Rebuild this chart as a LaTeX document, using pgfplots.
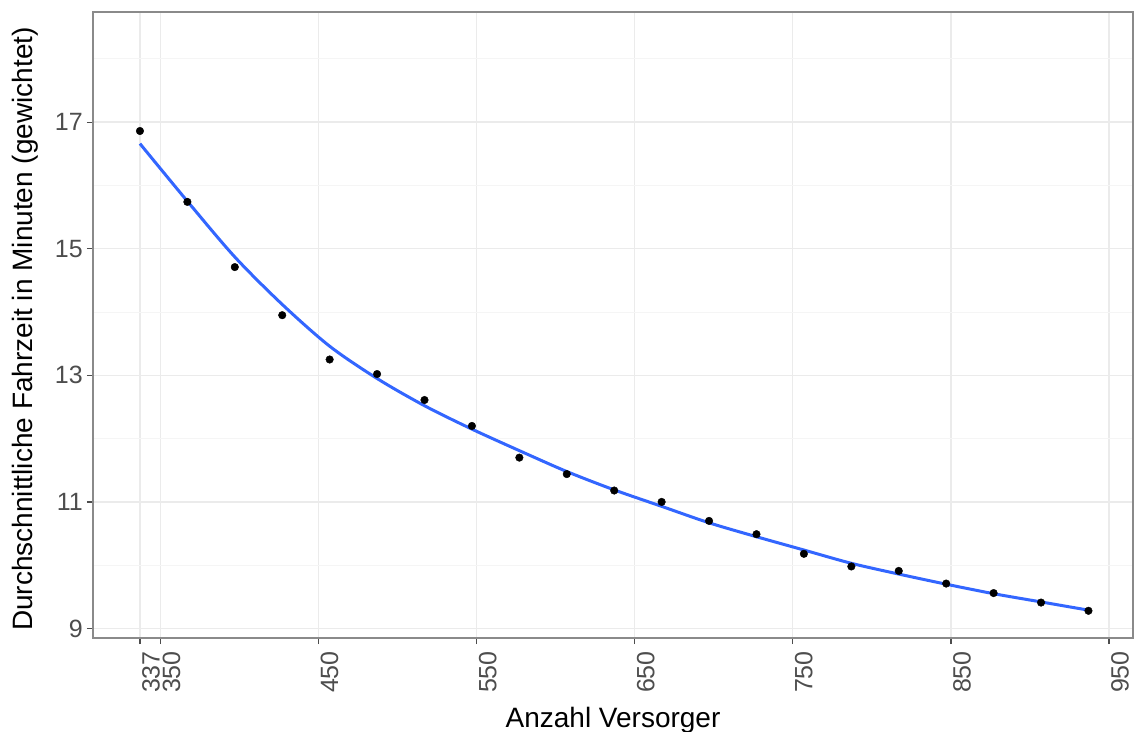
\documentclass[border=0pt]{standalone}
\usepackage{fontspec}
\setmainfont{Liberation Sans}
\usepackage{pgfplots}
\pgfplotsset{compat=1.18}
\definecolor{ggblue}{HTML}{3366FF}
\definecolor{gridmaj}{HTML}{EBEBEB}
\definecolor{gridmin}{HTML}{F5F5F5}
\definecolor{tickgray}{HTML}{4D4D4D}
\definecolor{bordergray}{HTML}{8A8A8A}
\begin{document}
\begin{tikzpicture}
\begin{axis}[
  name=a,
  scale only axis,
  width=1040bp, height=626bp,
  xmin=307.3, xmax=965.2,
  ymin=8.85, ymax=18.74,
  xtick={337,350,450,550,650,750,850,950},
  ytick={9,11,13,15,17},
  minor ytick={10,12,14,16,18},
  grid=both,
  major grid style={gridmaj, line width=1.3bp},
  minor grid style={gridmin, line width=1bp},
  axis line style={bordergray, line width=1.3bp},
  tick align=outside,
  major tick length=6bp,
  minor tick length=0bp,
  tick style={tickgray, line width=1.2bp},
  xtick pos=bottom, ytick pos=left,
  /pgf/number format/assume math mode=true,
  /pgf/number format/1000 sep={},
  ticklabel style={font=\fontsize{25bp}{28bp}\selectfont, text=tickgray},
  xticklabel style={rotate=90, anchor=north east, inner sep=2bp, xshift=-5bp},
  yticklabel style={anchor=east, inner sep=4bp},
  xlabel={Anzahl Versorger},
  ylabel={Durchschnittliche Fahrzeit in Minuten (gewichtet)},
  label style={font=\fontsize{28bp}{31bp}\selectfont, text=black},
  xlabel style={at={(axis description cs:0.5,0)}, anchor=base, yshift=-89bp},
  ylabel style={at={(axis description cs:0,0.5)}, anchor=base, yshift=60bp, xshift=-4bp},
]
\addplot[ggblue, line width=3bp, smooth] coordinates {
(337,16.66) (367,15.75) (397,14.87) (427,14.12) (457,13.46) (487,12.95)
(517,12.52) (547,12.15) (577,11.81) (607,11.48) (637,11.19) (667,10.93)
(697,10.67) (727,10.45) (757,10.24) (787,10.03) (817,9.86) (847,9.70)
(877,9.55) (907,9.42) (937,9.29)
};
\addplot[only marks, mark=*, mark size=3.8bp, black] coordinates {
(337,16.86) (367,15.74) (397,14.71) (427,13.95) (457,13.25) (487,13.02)
(517,12.61) (547,12.20) (577,11.70) (607,11.44) (637,11.18) (667,11.00)
(697,10.70) (727,10.49) (757,10.18) (787,9.98) (817,9.91) (847,9.71)
(877,9.56) (907,9.41) (937,9.28)
};
\end{axis}
\pgfresetboundingbox
\path[use as bounding box] ([xshift=-93bp,yshift=-94bp]a.south west) rectangle ++(1134bp,732bp);
\end{tikzpicture}
\end{document}
